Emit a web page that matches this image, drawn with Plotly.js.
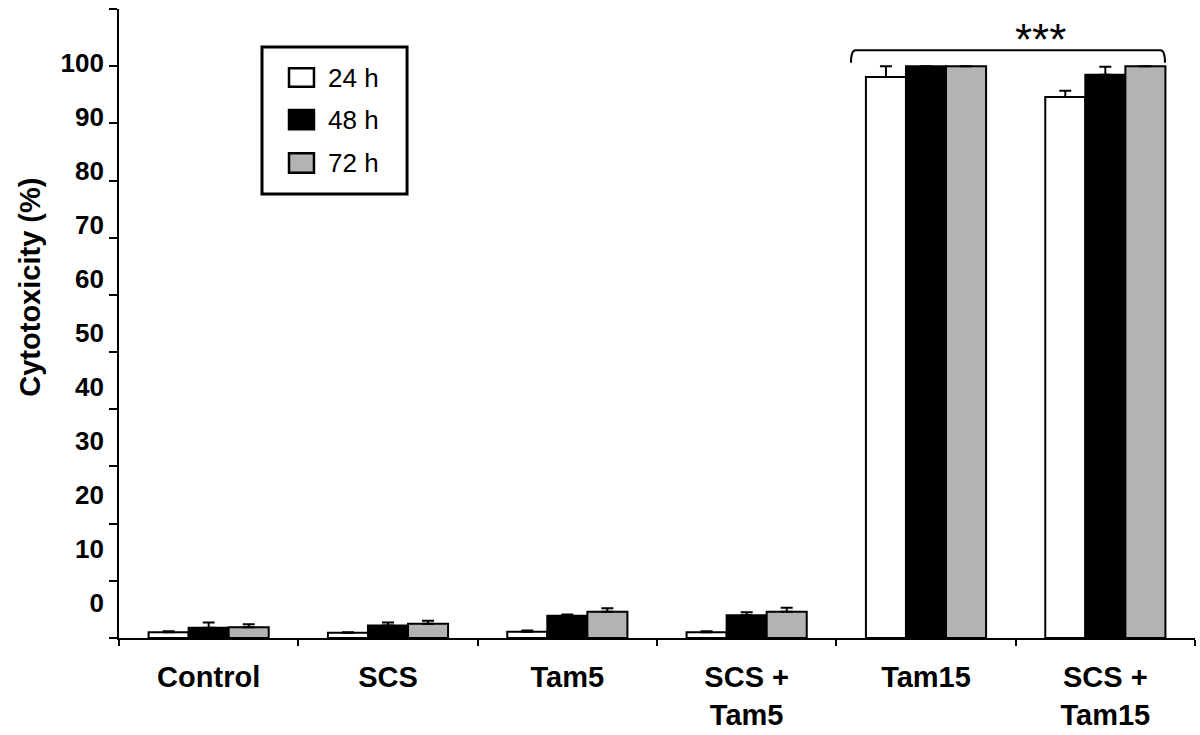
<!DOCTYPE html>
<html>
<head>
<meta charset="utf-8">
<script src="https://cdn.plot.ly/plotly-3.0.1.min.js"></script>
<style>html,body{margin:0;padding:0;background:#fff;}#chart{width:1200px;height:735px;}</style>
</head>
<body>
<div id="chart"></div>
<script>
// ---- data ----
const categories = ['Control', 'SCS', 'Tam5', 'SCS +<br>Tam5', 'Tam15', 'SCS +<br>Tam15'];
const series = ['24 h', '48 h', '72 h'];
const v24 = [1.0, 0.9, 1.1, 1.0, 98.1, 94.6];
const v48 = [1.8, 2.2, 3.9, 4.0, 100, 98.5];
const v72 = [1.9, 2.5, 4.6, 4.6, 100, 100];
const e24 = [0.2, 0.1, 0.2, 0.2, 1.9, 1.1];
const e48 = [0.9, 0.5, 0.2, 0.5, 0, 1.4];
const e72 = [0.5, 0.5, 0.6, 0.7, 0, 0];
const yTickVals = [0, 10, 20, 30, 40, 50, 60, 70, 80, 90, 100, 110];
const yLabelVals = [0, 10, 20, 30, 40, 50, 60, 70, 80, 90, 100];
const yLabelText = ['0', '10', '20', '30', '40', '50', '60', '70', '80', '90', '100'];
const sigText = '***';

// ---- styling ----
const FONT = 'Liberation Sans, Arial, Helvetica, sans-serif';
const fills = ['#ffffff', '#000000', '#b3b3b3'];
const values = [v24, v48, v72];
const errs = [e24, e48, e72];

const traces = series.map((name, i) => ({
  type: 'bar',
  name: name,
  x: categories,
  y: values[i],
  showlegend: false,
  marker: {color: fills[i], line: {color: '#000', width: 2}},
  error_y: {
    type: 'data', symmetric: false, array: errs[i],
    arrayminus: errs[i].map(() => 0),
    color: '#000', thickness: 2, width: 6, visible: true
  },
  hoverinfo: 'x+y+name'
}));

// invisible helper trace so the label-only axis is drawn
traces.push({type: 'scatter', x: [], y: [], yaxis: 'y2', showlegend: false, hoverinfo: 'skip'});

// ---- legend box drawn in paper space (matches the reference's large swatches) ----
const legBox = {x0: 0.1329, x1: 0.2677, y0: 0.7059, y1: 0.9396};
const swX = [0.1580, 0.1812];
const swY = [[0.8765, 0.9057], [0.8087, 0.8394], [0.7397, 0.7706]];
const txtX = 0.1924;
const txtY = [0.8910, 0.8240, 0.7552];

const shapes = [{
  type: 'rect', xref: 'paper', yref: 'paper',
  x0: legBox.x0, x1: legBox.x1, y0: legBox.y0, y1: legBox.y1,
  line: {color: '#000', width: 3}, fillcolor: '#fff'
}];
const annotations = [];
series.forEach((name, i) => {
  shapes.push({
    type: 'rect', xref: 'paper', yref: 'paper',
    x0: swX[0], x1: swX[1], y0: swY[i][0], y1: swY[i][1],
    line: {color: '#000', width: 2.5}, fillcolor: fills[i]
  });
  annotations.push({
    text: name, xref: 'paper', yref: 'paper', x: txtX, y: txtY[i],
    xanchor: 'left', yanchor: 'middle', showarrow: false,
    font: {family: FONT, size: 26, color: '#000'}
  });
});

// significance bracket
shapes.push({
  type: 'path', xref: 'paper', yref: 'y',
  path: 'M 0.6803,100.6 Q 0.6803,102.8 0.6845,102.8 L 0.9679,102.8 Q 0.9721,102.8 0.9721,100.6',
  line: {color: '#000', width: 2}
});

annotations.push({
  text: 'Cytotoxicity (%)', textangle: -90,
  xref: 'paper', yref: 'paper', x: -0.083, y: 0.558,
  xanchor: 'center', yanchor: 'middle', showarrow: false,
  font: {family: FONT, size: 29, color: '#000', weight: 'bold'}
});
annotations.push({
  text: sigText,
  xref: 'paper', yref: 'y', x: 0.856, y: 104.6,
  xanchor: 'center', yanchor: 'middle', showarrow: false,
  font: {family: FONT, size: 44, color: '#000'}
});

const layout = {
  width: 1200, height: 735,
  margin: {l: 119, r: 5, t: 9, b: 97},
  paper_bgcolor: '#fff', plot_bgcolor: '#fff',
  font: {family: FONT, color: '#000'},
  barmode: 'group', bargap: 0.33, bargroupgap: 0,
  showlegend: false,
  xaxis: {
    type: 'category',
    showline: true, linecolor: '#000', linewidth: 2,
    ticks: 'outside', tickson: 'boundaries', ticklen: 6, tickwidth: 1.5, tickcolor: '#000',
    showgrid: false, zeroline: false,
    tickfont: {family: FONT, size: 29, color: '#000', weight: 'bold'},
    ticklabelstandoff: 12,
    fixedrange: true
  },
  yaxis: {
    range: [0, 110],
    tickmode: 'array', tickvals: yTickVals, showticklabels: false,
    ticks: 'outside', ticklen: 8, tickwidth: 1.5, tickcolor: '#000',
    showline: true, linecolor: '#000', linewidth: 2,
    showgrid: false, zeroline: false, fixedrange: true
  },
  yaxis2: {
    overlaying: 'y', side: 'left', anchor: 'x',
    range: [-6.48, 110.0],
    tickmode: 'array', tickvals: yLabelVals, ticktext: yLabelText,
    ticks: '', showline: false, showgrid: false, zeroline: false,
    tickfont: {family: FONT, size: 26, color: '#000', weight: 'bold'},
    ticklabelstandoff: 14,
    fixedrange: true
  },
  shapes: shapes,
  annotations: annotations
};

Plotly.newPlot('chart', traces, layout, {displayModeBar: false});
</script>
</body>
</html>
